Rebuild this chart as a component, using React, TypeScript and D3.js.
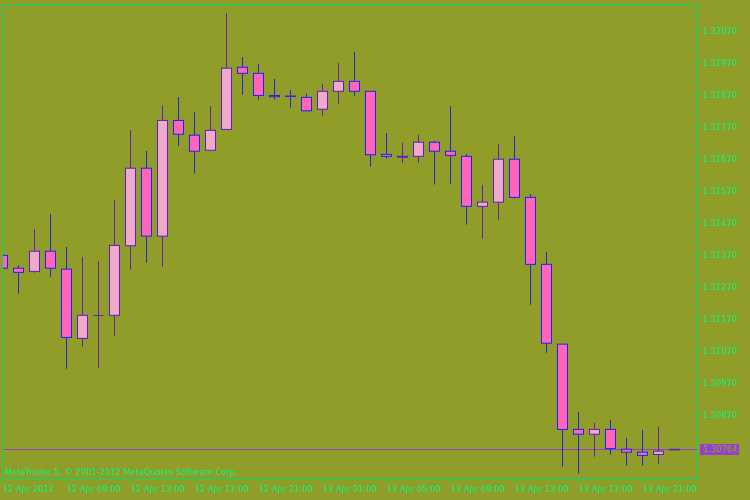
import React from "react";
import * as d3 from "d3";

const times: string[] = [
  "12 Apr 05:00","12 Apr 06:00","12 Apr 07:00","12 Apr 08:00","12 Apr 09:00","12 Apr 10:00","12 Apr 11:00","12 Apr 12:00",
  "12 Apr 13:00","12 Apr 14:00","12 Apr 15:00","12 Apr 16:00","12 Apr 17:00","12 Apr 18:00","12 Apr 19:00","12 Apr 20:00",
  "12 Apr 21:00","12 Apr 22:00","12 Apr 23:00","13 Apr 00:00","13 Apr 01:00","13 Apr 02:00","13 Apr 03:00","13 Apr 04:00",
  "13 Apr 05:00","13 Apr 06:00","13 Apr 07:00","13 Apr 08:00","13 Apr 09:00","13 Apr 10:00","13 Apr 11:00","13 Apr 12:00",
  "13 Apr 13:00","13 Apr 14:00","13 Apr 15:00","13 Apr 16:00","13 Apr 17:00","13 Apr 18:00","13 Apr 19:00","13 Apr 20:00",
  "13 Apr 21:00","13 Apr 22:00","13 Apr 23:00",
];

const opens: number[] = [
  1.31369,1.31329,1.31319,1.31382,1.31326,1.31110,1.31182,1.31182,1.31399,1.31641,1.31429,1.31790,1.31744,1.31697,1.31762,1.31956,
  1.31937,1.31868,1.31866,1.31862,1.31825,1.31881,1.31912,1.31881,1.31684,1.31675,1.31678,1.31722,1.31694,1.31678,1.31522,1.31535,
  1.31669,1.31550,1.31341,1.31092,1.30826,1.30811,1.30826,1.30764,1.30755,1.30748,1.30762,
];
const highs: number[] = [
  1.31373,1.31338,1.31451,1.31498,1.31395,1.31364,1.31351,1.31542,1.31760,1.31695,1.31837,1.31863,1.31816,1.31835,1.32125,1.31988,
  1.31966,1.31919,1.31885,1.31873,1.31904,1.31969,1.32004,1.31881,1.31751,1.31720,1.31745,1.31726,1.31835,1.31685,1.31589,1.31717,
  1.31741,1.31560,1.31380,1.31092,1.30880,1.30846,1.30855,1.30799,1.30824,1.30834,1.30764,
];
const lows: number[] = [
  1.31323,1.31249,1.31315,1.31302,1.31015,1.31084,1.31019,1.31118,1.31324,1.31346,1.31334,1.31711,1.31624,1.31697,1.31762,1.31870,
  1.31855,1.31855,1.31830,1.31820,1.31805,1.31842,1.31867,1.31646,1.31671,1.31657,1.31658,1.31590,1.31593,1.31465,1.31421,1.31480,
  1.31546,1.31215,1.31065,1.30710,1.30688,1.30741,1.30747,1.30713,1.30713,1.30719,1.30762,
];
const closes: number[] = [
  1.31329,1.31316,1.31382,1.31329,1.31113,1.31182,1.31182,1.31400,1.31641,1.31429,1.31790,1.31747,1.31694,1.31759,1.31953,1.31937,
  1.31868,1.31864,1.31865,1.31820,1.31881,1.31912,1.31881,1.31683,1.31678,1.31678,1.31722,1.31694,1.31681,1.31522,1.31535,1.31669,
  1.31550,1.31341,1.31095,1.30826,1.30811,1.30826,1.30766,1.30755,1.30745,1.30758,1.30764,
];

const priceTicks: number[] = [1.3207,1.3197,1.3187,1.3177,1.3167,1.3157,1.3147,1.3137,1.3127,1.3117,1.3107,1.3097,1.3087];
const timeTickIdx: number[] = [0,4,8,12,16,20,24,28,32,36,40];
const timeTickLabels: string[] = [
  "12 Apr 2012","12 Apr 09:00","12 Apr 13:00","12 Apr 17:00","12 Apr 21:00","13 Apr 01:00",
  "13 Apr 05:00","13 Apr 09:00","13 Apr 13:00","13 Apr 17:00","13 Apr 21:00",
];
const lastPrice = 1.30764;
const copyright = "MetaTrader 5, © 2001-2012 MetaQuotes Software Corp.";

const BG = "#919D29";
const GREEN = "#00DC6E";
const TEXT_GREEN = "#00F07A";
const BULL_FILL = "#EEAAC8";
const BULL_LINE = "#5E1EC0";
const BEAR_FILL = "#FF66BB";
const BEAR_LINE = "#2222F0";
const PRICE_COLOR = "#9640CC";
const FONT = "'DejaVu Sans', sans-serif";

export default function App() {
  const W = 750, H = 500;
  const left = 2, right = 697, top = 4, bottom = 479;
  const x = d3.scaleLinear().domain([0, 42]).range([2.5, 674.5]);
  const y = d3.scaleLinear().domain([1.3087, 1.3207]).range([415.3, 30.7]);

  const candles = times.map((t, i) => ({ t, o: opens[i], h: highs[i], l: lows[i], c: closes[i] }));
  const lastY = Math.round(y(lastPrice)) + 0.5;

  return (
    <svg width={W} height={H} style={{ position: "absolute", left: 0, top: 0, display: "block" }} fontFamily={FONT}>
      <rect x={0} y={0} width={W} height={H} fill={BG} />
      <defs>
        <clipPath id="plot"><rect x={left} y={top} width={right - left} height={bottom - top} /></clipPath>
      </defs>
      <g clipPath="url(#plot)">
        <line x1={left} x2={right} y1={lastY} y2={lastY} stroke={PRICE_COLOR} strokeWidth={1} />
        {candles.map((d, i) => {
          const cx = x(i);
          const bull = d.c >= d.o;
          const line = bull ? BULL_LINE : BEAR_LINE;
          const fill = bull ? BULL_FILL : BEAR_FILL;
          const yT = y(Math.max(d.o, d.c));
          const yB = y(Math.min(d.o, d.c));
          const hgt = yB - yT;
          return (
            <g key={i}>
              <line x1={cx} x2={cx} y1={y(d.h)} y2={y(d.l)} stroke={line} strokeWidth={1} />
              {hgt < 0.2 ? (
                <line x1={cx - 5} x2={cx + 5} y1={Math.round(yT) + 0.5} y2={Math.round(yT) + 0.5} stroke={line} strokeWidth={1} />
              ) : (
                <rect x={cx - 5} y={yT} width={10} height={hgt} fill={fill} stroke={line} strokeWidth={1} />
              )}
            </g>
          );
        })}
      </g>
      {/* frame */}
      <line x1={left + 0.5} x2={left + 0.5} y1={top} y2={bottom + 4} stroke={GREEN} />
      <line x1={left} x2={right + 1} y1={top + 0.5} y2={top + 0.5} stroke={GREEN} />
      <line x1={right + 0.5} x2={right + 0.5} y1={top} y2={bottom + 1} stroke={GREEN} />
      <line x1={left} x2={right + 1} y1={bottom + 0.5} y2={bottom + 0.5} stroke={GREEN} />
      {/* price axis */}
      {priceTicks.map((p, i) => {
        const ty = Math.round(y(p)) + 0.5;
        return (
          <g key={i}>
            <line x1={right} x2={right + 4} y1={ty} y2={ty} stroke={GREEN} />
            <text x={703} y={ty} dy="0.35em" fontSize={8.3} fill={TEXT_GREEN}>{d3.format(".5f")(p)}</text>
          </g>
        );
      })}
      <rect x={700} y={444} width={39} height={11} fill={PRICE_COLOR} />
      <text x={703} y={449.5} dy="0.35em" fontSize={8.3} fill={BG}>{d3.format(".5f")(lastPrice)}</text>
      {/* time axis */}
      {timeTickIdx.map((k, i) => {
        const tx = Math.floor(x(k)) + 0.5;
        return (
          <g key={i}>
            <line x1={tx} x2={tx} y1={bottom} y2={bottom + 4} stroke={GREEN} />
            <text x={tx + 0.5} y={489} dy="0.35em" fontSize={8.3} fill={TEXT_GREEN}>{timeTickLabels[i]}</text>
          </g>
        );
      })}
      <text x={5} y={472} dy="0.35em" fontSize={8.3} fill={TEXT_GREEN}>{copyright}</text>
    </svg>
  );
}
